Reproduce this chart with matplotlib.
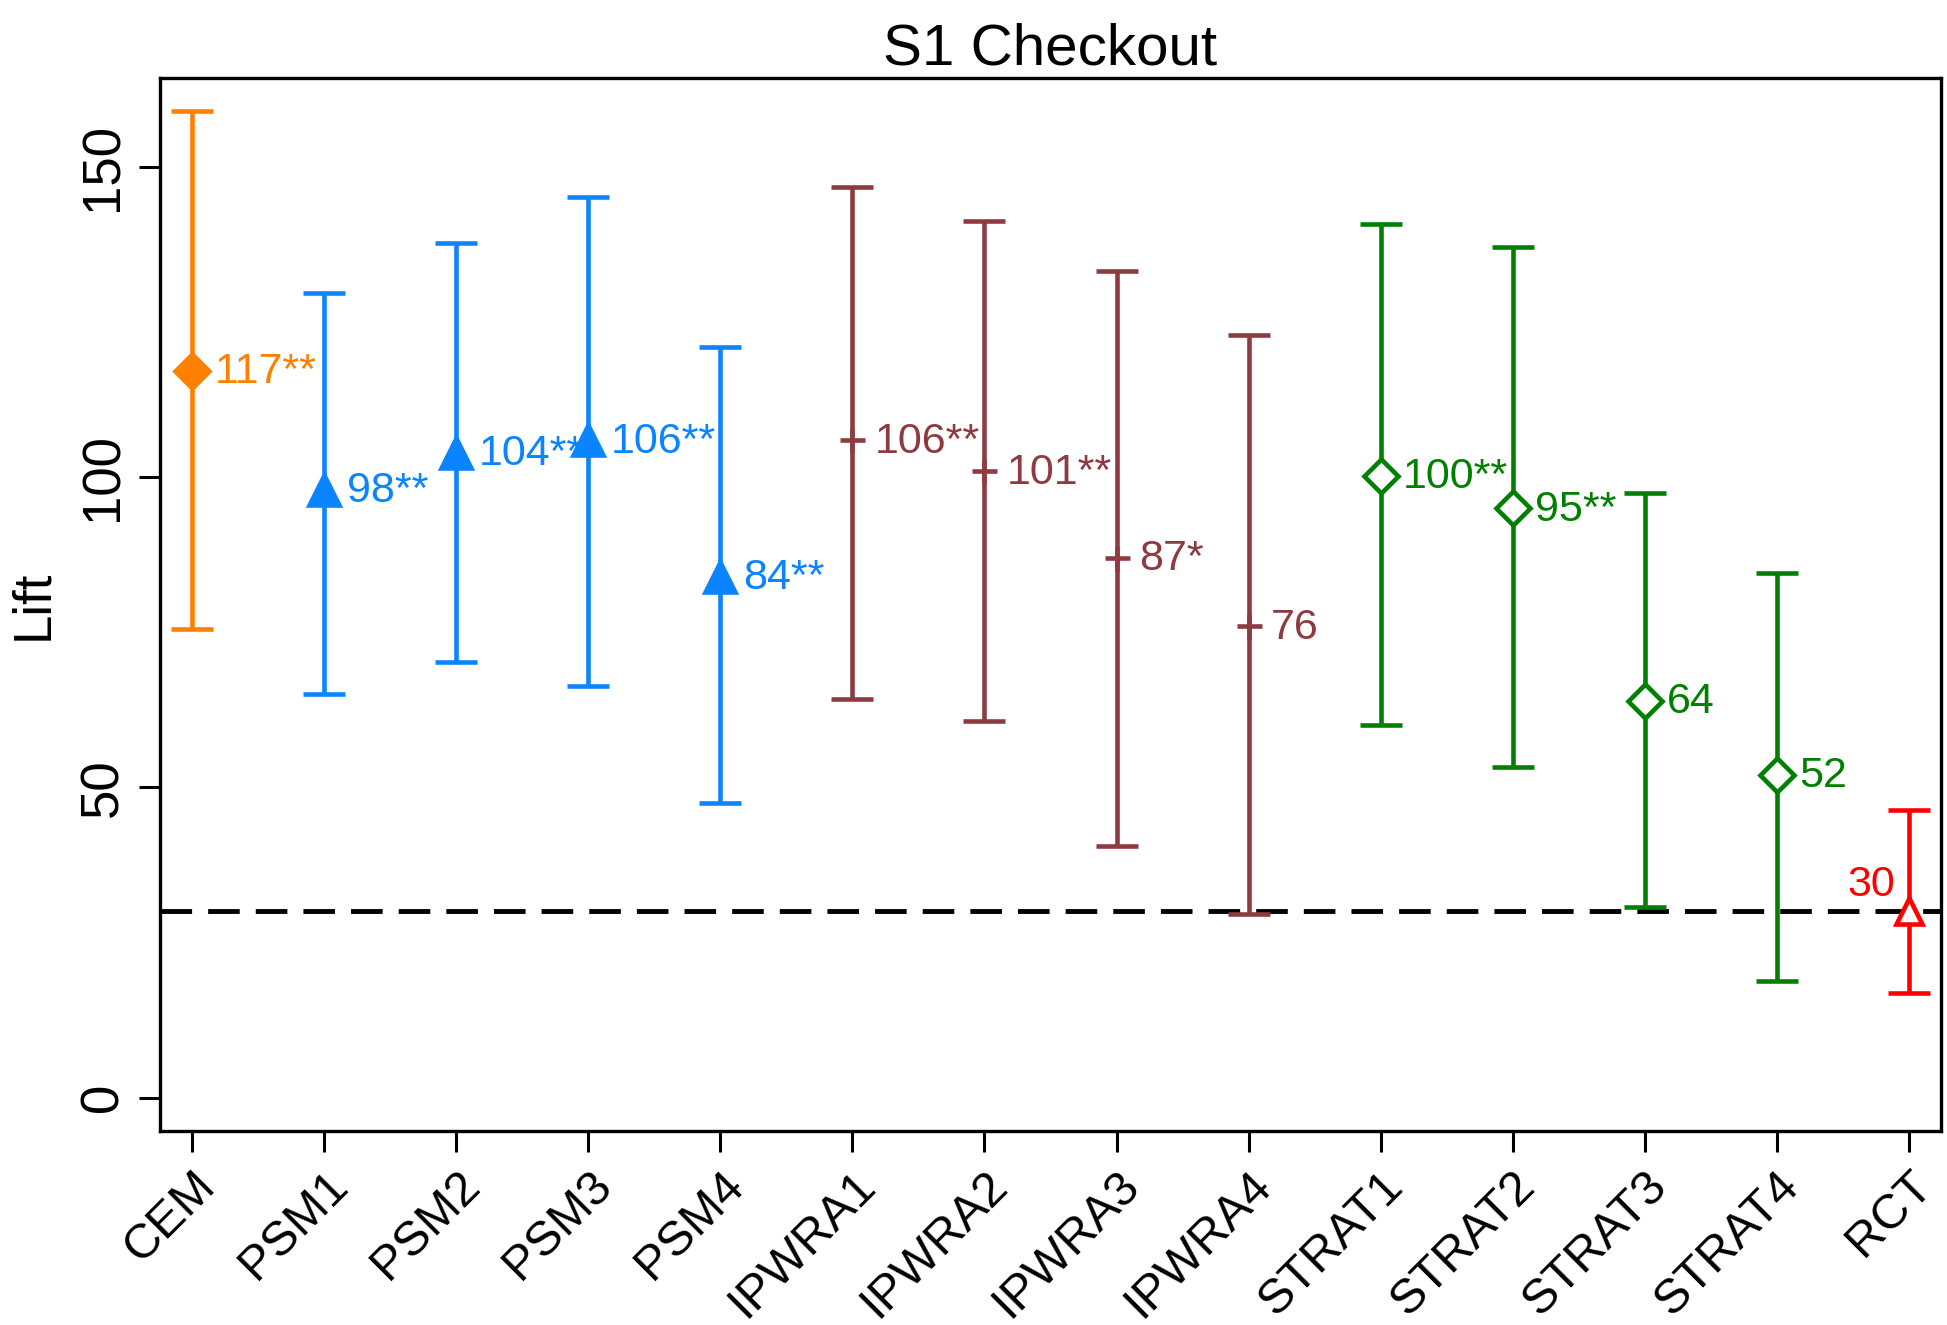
import matplotlib
matplotlib.use("Agg")
import matplotlib.pyplot as plt

plt.rcParams['font.family'] = ['Liberation Sans', 'DejaVu Sans']

methods = ["CEM", "PSM1", "PSM2", "PSM3", "PSM4", "IPWRA1", "IPWRA2", "IPWRA3",
           "IPWRA4", "STRAT1", "STRAT2", "STRAT3", "STRAT4", "RCT"]
lift = [117.2, 98, 104, 106, 84, 106, 101, 87, 76, 100.3, 95, 64, 52, 30]
upper = [159.0, 129.8, 137.8, 145.2, 121.0, 146.8, 141.4, 133.2, 123.0, 140.8, 137.2, 97.5, 84.5, 46.3]
lower = [75.5, 65.1, 70.3, 66.3, 47.5, 64.3, 60.7, 40.5, 29.6, 60.1, 53.3, 30.8, 18.8, 16.8]
labels = ["117**", "98**", "104**", "106**", "84**", "106**", "101**", "87*",
          "76", "100**", "95**", "64", "52", "30"]
rct_lift = 30

orange = "#ff8000"
blue = "#0a84ff"
maroon = "#8e3a41"
green = "#008000"
red = "#ff0000"
colors = [orange] + [blue] * 4 + [maroon] * 4 + [green] * 4 + [red]
markers = ["D"] + ["^"] * 4 + ["+"] * 4 + ["D"] * 4 + ["^"]
filled = [True] * 5 + [True] * 4 + [False] * 4 + [False]
msizes = [17] + [21] * 4 + [18] * 4 + [17] * 4 + [19]

fig = plt.figure(figsize=(19.47, 13.25), dpi=100)
ax = fig.add_axes([160 / 1947, 1 - 1131 / 1325, (1941 - 160) / 1947, (1131 - 78) / 1325])

x = list(range(1, len(methods) + 1))
# RCT reference line
ax.axhline(rct_lift, color="black", lw=3.5, ls=(0, (6.5, 3.3)), zorder=1)

for i in range(len(methods)):
    c = colors[i]
    ax.errorbar(x[i], lift[i], yerr=[[lift[i] - lower[i]], [upper[i] - lift[i]]],
                fmt="none", ecolor=c, elinewidth=3.3, capsize=15, capthick=3.3, zorder=2)
    ax.plot(x[i], lift[i], marker=markers[i], ms=msizes[i], color=c,
            mfc=c if filled[i] else "white", mec=c, mew=3.3,
            ls="none", zorder=3)
    if methods[i] == "RCT":
        ax.annotate(labels[i], (x[i], lift[i]), xytext=(-10, 5), textcoords="offset points",
                    ha="right", va="bottom", color=c, fontsize=31)
    else:
        ax.annotate(labels[i], (x[i], lift[i]), xytext=(16, -1), textcoords="offset points",
                    ha="left", va="center", color=c, fontsize=31)

ax.set_xlim(0.755, 14.245)
ax.set_ylim(-5.4, 164.4)
ax.set_xticks(x)
ax.set_xticklabels(methods, rotation=45, ha="right", rotation_mode="anchor", fontsize=35)
ax.set_yticks([0, 50, 100, 150])
ax.set_yticklabels(["0", "50", "100", "150"], rotation=90, va="center", fontsize=38)
ax.tick_params(axis="both", length=15, width=2.2, direction="out", pad=8)
for s in ax.spines.values():
    s.set_linewidth(2.4)
ax.set_ylabel("Lift", fontsize=38, labelpad=14)
ax.set_title("S1 Checkout", fontsize=42, pad=10)

fig.savefig("out.png", dpi=100, facecolor="white")
